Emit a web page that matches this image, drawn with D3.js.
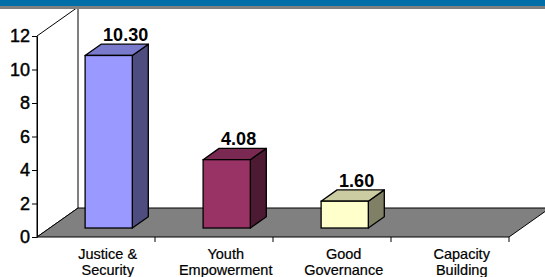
<!DOCTYPE html>
<html>
<head>
<meta charset="utf-8">
<script src="https://cdn.jsdelivr.net/npm/d3@7"></script>
<style>
  html, body { margin: 0; padding: 0; background: #ffffff; }
  svg { display: block; }
  text { font-family: Arial, "Liberation Sans", sans-serif; }
</style>
</head>
<body>
<svg id="chart" width="545" height="277"></svg>
<script>
// ---- data ----
const categories = ["Justice & Security", "Youth Empowerment", "Good Governance", "Capacity Building"];
const categoryLines = [["Justice &", "Security"], ["Youth", "Empowerment"], ["Good", "Governance"], ["Capacity", "Building"]];
const values = [10.30, 4.08, 1.60, 0];
const valueLabels = ["10.30", "4.08", "1.60", null];
const yTicks = [0, 2, 4, 6, 8, 10, 12];
const frontColors = ["#9999ff", "#993366", "#ffffcc", "#ccffff"];
const topColors = ["#7a7acc", "#7a2952", "#cccca3", "#a3cccc"];
const sideColors = ["#4d4d80", "#4d1a33", "#808066", "#668080"];

// ---- layout ----
const W = 545, H = 277;
const svg = d3.select("#chart");
const pLeft = 37, pRight = 509, pBottom = 237, pTop = 36;
const DX = 41, DY = 29;            // depth of the 3D box
const frontFrac = 0.31, depthFrac = 0.39;
const fdx = DX * frontFrac, fdy = DY * frontFrac;
const bdx = DX * depthFrac, bdy = DY * depthFrac;

const x = d3.scaleBand().domain(categories).range([pLeft, pRight]).padding(0);
const y = d3.scaleLinear().domain([0, 12]).range([pBottom, pTop]);
const bw = x.bandwidth();
const barW = bw * 0.4;

// left side wall
svg.append("path")
  .attr("d", `M${pLeft},${pBottom}L${pLeft},${pTop}L${pLeft + DX},${pTop - DY}L${pLeft + DX},${pBottom - DY}Z`)
  .attr("fill", "#ffffff").attr("stroke", "#000").attr("stroke-width", 1);

// floor
svg.append("path")
  .attr("d", `M${pLeft},${pBottom}L${pRight},${pBottom}L${pRight + DX},${pBottom - DY}L${pLeft + DX},${pBottom - DY}Z`)
  .attr("fill", "#808080").attr("stroke", "#000").attr("stroke-width", 1);

// bars
const data = categories.map((c, i) => ({ c, v: values[i], i }));
const g = svg.append("g");
data.filter(d => d.v > 0).forEach(d => {
  const x0 = x(d.c) + (bw - barW) / 2 + fdx;
  const x1 = x0 + barW;
  const yb = y(0) - fdy;
  const yt = y(d.v) - fdy;
  g.append("path")
    .attr("d", `M${x1},${yb}L${x1},${yt}L${x1 + bdx},${yt - bdy}L${x1 + bdx},${yb - bdy}Z`)
    .attr("fill", sideColors[d.i]).attr("stroke", "#000").attr("stroke-width", 1.3).attr("stroke-linejoin", "round");
  g.append("path")
    .attr("d", `M${x0},${yt}L${x0 + bdx},${yt - bdy}L${x1 + bdx},${yt - bdy}L${x1},${yt}Z`)
    .attr("fill", topColors[d.i]).attr("stroke", "#000").attr("stroke-width", 1.3).attr("stroke-linejoin", "round");
  g.append("rect")
    .attr("x", x0).attr("y", yt).attr("width", barW).attr("height", yb - yt)
    .attr("fill", frontColors[d.i]).attr("stroke", "#000").attr("stroke-width", 1.3);
  if (valueLabels[d.i]) {
    g.append("text")
      .attr("x", x0 + 18).attr("y", yt - bdy - 3)
      .attr("font-size", 18).attr("font-weight", "bold").attr("fill", "#000")
      .text(valueLabels[d.i]);
  }
});

// y axis
const yAxis = d3.axisLeft(y).tickValues(yTicks).tickSize(5).tickSizeOuter(0).tickPadding(2);
const ya = svg.append("g").attr("transform", `translate(${pLeft},0)`).call(yAxis);
ya.select(".domain").attr("stroke", "#000");
ya.selectAll(".tick line").attr("stroke", "#000");
ya.selectAll(".tick text").attr("font-size", 18).attr("font-family", "Arial, 'Liberation Sans', sans-serif")
  .attr("fill", "#000").attr("stroke", "#000").attr("stroke-width", 0.45);

// x axis ticks at band boundaries
const boundaries = categories.map(c => x(c) + bw);
svg.append("g").selectAll("line").data(boundaries).join("line")
  .attr("x1", d => d).attr("x2", d => d).attr("y1", pBottom).attr("y2", pBottom + 5)
  .attr("stroke", "#000");

// category labels
const xl = svg.append("g");
categories.forEach((c, i) => {
  const cx = x(c) + bw / 2 + fdx - 1;
  const t = xl.append("text")
    .attr("x", cx).attr("y", 259)
    .attr("text-anchor", "middle").attr("font-size", 14.5).attr("fill", "#000")
    .attr("stroke", "#000").attr("stroke-width", 0.2);
  categoryLines[i].forEach((ln, k) => {
    t.append("tspan").attr("x", cx).attr("dy", k === 0 ? 0 : 16).text(ln);
  });
});

// header band
svg.append("rect").attr("x", 0).attr("y", 0).attr("width", W).attr("height", 6).attr("fill", "#006fa8");
svg.append("rect").attr("x", 0).attr("y", 6).attr("width", W).attr("height", 3).attr("fill", "#808080");
</script>
</body>
</html>
